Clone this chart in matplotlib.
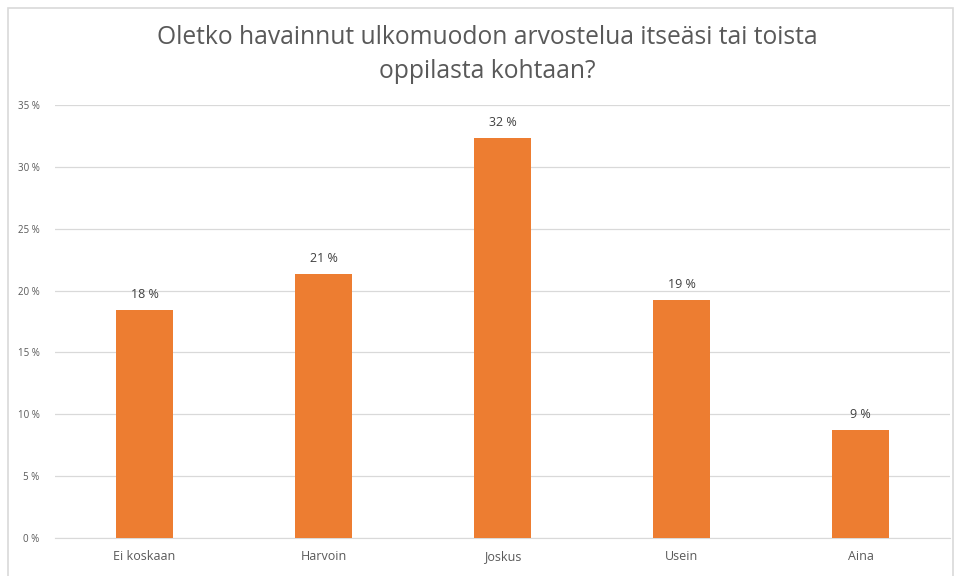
import numpy as np
import matplotlib.pyplot as plt
from matplotlib.patches import Rectangle

# Data
categories = ['Ei koskaan', 'Harvoin', 'Joskus', 'Usein', 'Aina']
values = [18.4, 21.3, 32.3, 19.2, 8.7]
labels = ['18 %', '21 %', '32 %', '19 %', '9 %']
yticks = [0, 5, 10, 15, 20, 25, 30, 35]

plt.rcParams['font.family'] = ['Open Sans', 'DejaVu Sans']

fig = plt.figure(figsize=(9.58, 5.76), dpi=100)
ax = fig.add_axes([55/958, 1 - 538/576, (950 - 55)/958, (538 - 105)/576])

x = np.arange(len(categories))
ax.bar(x, values, width=0.32, color='#ED7D31', zorder=3)

for xi, v, lab in zip(x, values, labels):
    ax.text(xi, v + 0.75, lab, ha='center', va='bottom', fontsize=9,
            color='#404040', zorder=4)

ax.set_xlim(-0.5, len(categories) - 0.5)
ax.set_ylim(0, 35)
ax.set_yticks(yticks)
ax.set_yticklabels([f'{t} %' for t in yticks])
ax.set_xticks(x)
ax.set_xticklabels(categories)

ax.grid(axis='y', color='#D9D9D9', linewidth=0.9, zorder=0)
for s in ['top', 'right', 'left']:
    ax.spines[s].set_visible(False)
ax.spines['bottom'].set_color('#D9D9D9')
ax.tick_params(axis='y', length=0, labelsize=7, labelcolor='#595959', pad=11)
ax.tick_params(axis='x', length=0, labelsize=9, labelcolor='#595959', pad=9)

fig.text(487/958, 1 - 38/576, 'Oletko havainnut ulkomuodon arvostelua itseäsi tai toista',
         ha='center', va='center', fontsize=17.7, color='#595959')
fig.text(487/958, 1 - 72/576, 'oppilasta kohtaan?',
         ha='center', va='center', fontsize=17.7, color='#595959')

# light frame around the chart area
fig.patches.append(Rectangle((8/958, -0.05), (953 - 8)/958, 1 - 8/576 + 0.05,
                             transform=fig.transFigure, fill=False,
                             edgecolor='#D9D9D9', linewidth=1.2))

fig.savefig('out.png', dpi=100)
